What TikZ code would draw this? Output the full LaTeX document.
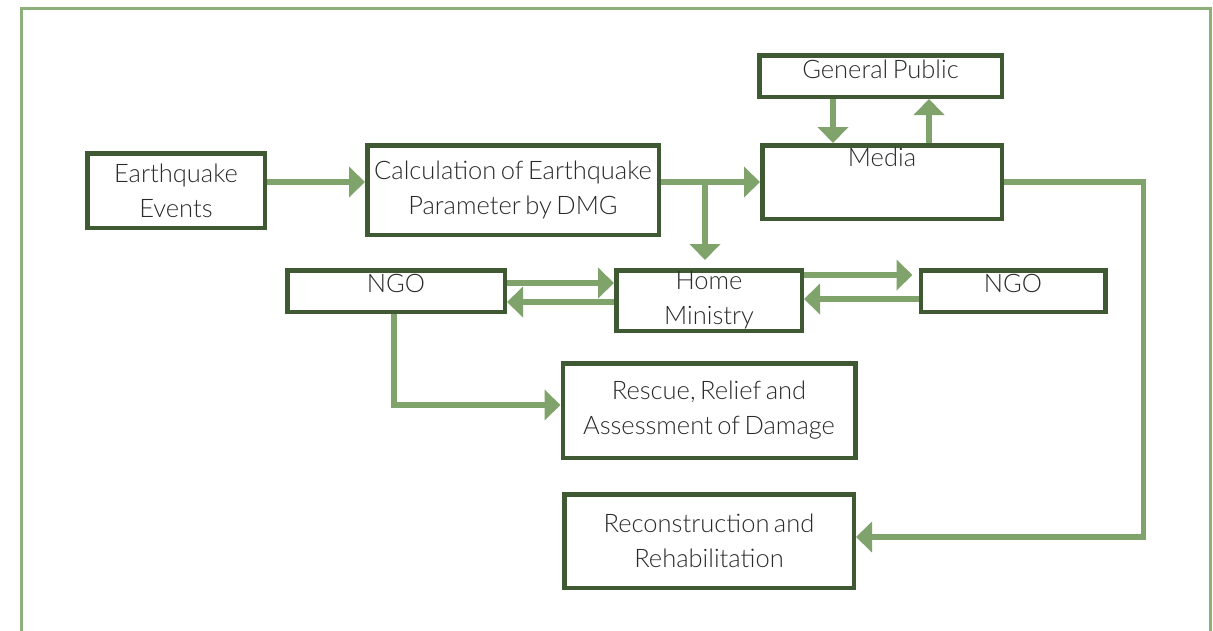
\documentclass[tikz,border=0pt]{standalone}
\usepackage{fontspec}
\setmainfont{Lato}[UprightFont={* Light}, WordSpace=0.65]
\usetikzlibrary{arrows.meta,positioning}
\definecolor{framegreen}{HTML}{8DB07A}
\definecolor{boxgreen}{HTML}{3F5A32}
\definecolor{arrowgreen}{HTML}{80A36B}
\definecolor{inkgray}{HTML}{2A2A2A}

\begin{document}
\begin{tikzpicture}[
    x=1pt, y=-1pt,
    box/.style={draw=boxgreen, line width=4.5pt, align=center, text=inkgray,
      font=\fontsize{25.5}{35}\selectfont, inner sep=0pt},
    lift/.style={text height=19pt, text depth=#1},
    arr/.style={-{Triangle[length=16pt, width=30pt]}, draw=arrowgreen, line width=5.5pt}
  ]
    \useasboundingbox (0,0) rectangle (1213,630);
    \draw[framegreen, line width=2.5pt] (21.5,632) -- (21.5,8.5) -- (1210.5,8.5) -- (1210.5,632);

    \node[box, minimum width=177.5pt, minimum height=74.5pt] (events) at (176,190.5) {Earthquake\\Events};
    \node[box, minimum width=291.5pt, minimum height=89.5pt] (calc) at (513,190) {Calculation of Earthquake\\Parameter by DMG};
    \node[box, lift=15pt, minimum width=242.5pt, minimum height=41.5pt] (public) at (880.5,76) {General Public};
    \node[box, lift=50pt, minimum width=239.5pt, minimum height=73.5pt] (media) at (882,182) {Media};
    \node[box, lift=17pt, minimum width=217.5pt, minimum height=41.5pt] (ngoleft) at (396,291) {NGO};
    \node[box, minimum width=185.5pt, minimum height=60.5pt] (home) at (709,300.5) {Home\\Ministry};
    \node[box, lift=17pt, minimum width=184.5pt, minimum height=41.5pt] (ngoright) at (1013,291) {NGO};
    \node[box, minimum width=292.5pt, minimum height=94.5pt] (rescue) at (709,410.5) {Rescue, Relief and\\Assessment of Damage};
    \node[box, minimum width=289.5pt, minimum height=93.5pt] (recon) at (709,541) {Reconstruction and\\Rehabilitation};

    \coordinate (split) at (705,182);
    \draw[arr] ([yshift=8.5pt]events.east) -- ([yshift=8.5pt]events.east -| calc.west);
    \draw[arr] ([yshift=8pt]calc.east) -- (media.west);
    \draw[arr, shorten >=8pt] (split) -- (split |- home.north);
    \draw[arr] ([xshift=-47.5pt]public.south) -- ([xshift=-47.5pt]public.south |- media.north);
    \draw[arr] ([xshift=47pt]media.north) -- ([xshift=47pt]media.north |- public.south);
    \draw[arr] (media.east) -- ++(139.5,0) |- ([yshift=4pt]recon.east);
    \draw[arr] ([yshift=8pt]ngoleft.east) -- ([yshift=8pt]ngoleft.east -| home.west);
    \draw[arr] ([yshift=-1.5pt]home.west) -- ([yshift=-1.5pt]home.west -| ngoleft.east);
    \draw[arr, shorten >=6pt] ([yshift=25.5pt]home.east) -- ([yshift=25.5pt]home.east -| ngoright.west);
    \draw[arr] ([yshift=-8pt]ngoright.west) -- ([yshift=-8pt]ngoright.west -| home.east);
    \draw[arr] ([xshift=-2pt]ngoleft.south) |- ([yshift=5.5pt]rescue.west);
  \end{tikzpicture}
\end{document}
